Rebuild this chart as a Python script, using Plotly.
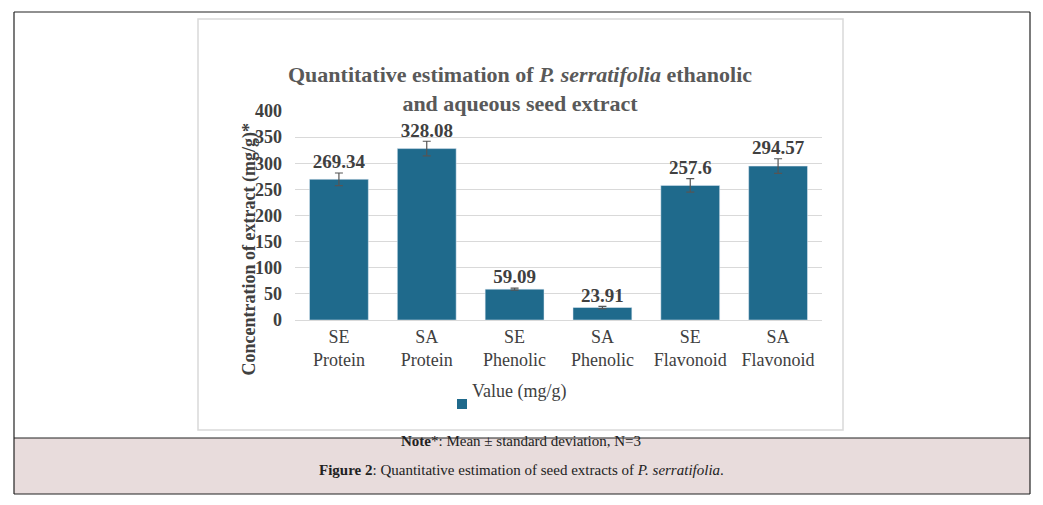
import plotly.graph_objects as go

categories = ["SE<br>Protein", "SA<br>Protein", "SE<br>Phenolic", "SA<br>Phenolic", "SE<br>Flavonoid", "SA<br>Flavonoid"]
values = [269.34, 328.08, 59.09, 23.91, 257.6, 294.57]
labels = ["269.34", "328.08", "59.09", "23.91", "257.6", "294.57"]
errors = [12, 14, 2, 2, 13, 14]

# the page body has an 8px margin, so work in page pixels and shift
OFF = 8
W, H = 1043 - OFF, 505 - OFF
L, R, T, B = 295 - OFF, 822 - OFF, 111 - OFF, 320 - OFF


def px_x(x):
    return (x - OFF - L) / (R - L)


def px_y(y):
    return (B - (y - OFF)) / (B - T)


font = "Liberation Serif"
fig = go.Figure(go.Bar(
    x=categories, y=values, name="Value (mg/g)", marker_color="#1f6a8c",
    error_y=dict(type="data", array=errors, color="#555", thickness=1.2, width=4),
))
fig.add_trace(go.Scatter(
    x=categories, y=[v + e for v, e in zip(values, errors)], mode="text",
    text=["<b>%s</b>" % s for s in labels], textposition="top center", cliponaxis=False,
    textfont=dict(family=font, size=19, color="#404040"),
))

fig.update_layout(
    width=W, height=H, margin=dict(l=L, r=W - R, t=T, b=H - B),
    paper_bgcolor="white", plot_bgcolor="white", bargap=0.33,
    font=dict(family=font, color="#404040"),
    showlegend=False,
    yaxis=dict(range=[0, 400], dtick=50, showgrid=True, gridcolor="#d9d9d9",
               tickfont=dict(size=18, family=font, color="#404040", weight="bold"),
               ticklabelstandoff=12, zeroline=False, showline=False),
    xaxis=dict(tickfont=dict(size=18, family=font, color="#404040"), showline=True,
               linecolor="#d9d9d9"),
)

shapes = [
    dict(type="rect", xref="paper", yref="paper", x0=px_x(14), x1=px_x(1030),
         y0=px_y(438), y1=px_y(494), fillcolor="#e8dcdc", line=dict(width=0), layer="below"),
    dict(type="rect", xref="paper", yref="paper", x0=px_x(198), x1=px_x(843),
         y0=px_y(430), y1=px_y(19), line=dict(color="#d9d9d9", width=1.5)),
    dict(type="line", xref="paper", yref="paper", x0=px_x(14), x1=px_x(1030),
         y0=px_y(12), y1=px_y(12), line=dict(color="#222", width=1.2)),
    dict(type="line", xref="paper", yref="paper", x0=px_x(14), x1=px_x(1030),
         y0=px_y(438), y1=px_y(438), line=dict(color="#222", width=1.2)),
    dict(type="line", xref="paper", yref="paper", x0=px_x(14), x1=px_x(1030),
         y0=px_y(494), y1=px_y(494), line=dict(color="#222", width=1.2)),
    dict(type="line", xref="paper", yref="paper", x0=px_x(14), x1=px_x(14),
         y0=px_y(12), y1=px_y(494), line=dict(color="#222", width=1.2)),
    dict(type="line", xref="paper", yref="paper", x0=px_x(1030), x1=px_x(1030),
         y0=px_y(12), y1=px_y(494), line=dict(color="#222", width=1.2)),
    dict(type="rect", xref="paper", yref="paper", x0=px_x(457), x1=px_x(467),
         y0=px_y(409), y1=px_y(399), fillcolor="#1f6a8c", line=dict(width=0)),
]

annotations = [
    dict(text="<b>Quantitative estimation of <i>P. serratifolia</i> ethanolic<br>and aqueous seed extract</b>",
         x=px_x(520), y=px_y(60), font=dict(size=22, color="#595959")),
    dict(text="<b>Concentration of extract (mg/g)*</b>", textangle=-90,
         x=px_x(236), y=px_y(250), font=dict(size=18, color="#404040")),
    dict(text="Value (mg/g)", x=px_x(470), y=px_y(404), xanchor="left",
         font=dict(size=18, color="#404040")),
    dict(text="<b>Note</b>*: Mean ± standard deviation, N=3", x=px_x(521), y=px_y(451),
         font=dict(size=15, color="#222")),
    dict(text="<b>Figure 2</b>: Quantitative estimation of seed extracts of <i>P. serratifolia</i>.",
         x=px_x(521), y=px_y(480), font=dict(size=15, color="#222")),
]
for a in annotations:
    a.update(xref="paper", yref="paper", showarrow=False, font_family=font)

fig.update_layout(shapes=shapes, annotations=annotations)
fig.write_html("out.html")
